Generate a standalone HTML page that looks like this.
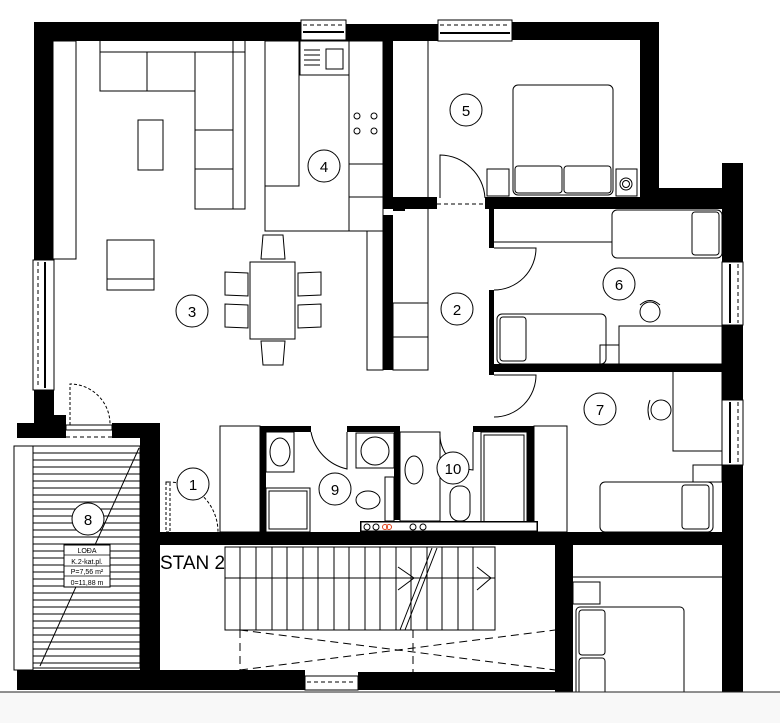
<!DOCTYPE html>
<html><head><meta charset="utf-8"><style>
html,body{margin:0;padding:0;background:#fff;}
svg{display:block;font-family:"Liberation Sans",sans-serif;}
</style></head><body>
<svg width="780" height="723" viewBox="0 0 780 723" xmlns="http://www.w3.org/2000/svg">
<rect x="0" y="0" width="780" height="723" fill="#fff"/>

<!-- ===== WALLS ===== -->
<g fill="#000">
<rect x="34" y="22" width="267" height="19"/>
<rect x="346" y="24" width="92" height="17"/>
<rect x="512" y="22" width="147" height="18"/>
<rect x="34" y="22" width="19" height="238"/>
<rect x="34" y="390" width="20" height="35"/>
<rect x="54" y="415" width="12" height="10"/>
<rect x="640" y="22" width="19" height="170"/>
<rect x="640" y="188" width="102" height="12"/>
<rect x="722" y="163" width="21" height="99"/>
<rect x="722" y="325" width="21" height="75"/>
<rect x="722" y="465" width="21" height="227"/>
<rect x="383" y="40" width="10" height="158"/>
<rect x="383" y="215" width="10" height="155"/>
<rect x="393" y="197" width="12" height="14"/>
<rect x="383" y="197" width="54" height="12"/>
<rect x="485" y="197" width="240" height="12"/>
<rect x="489" y="209" width="5" height="39"/>
<rect x="489" y="290" width="5" height="85"/>
<rect x="489" y="364" width="233" height="8"/>
<rect x="260" y="426" width="51" height="6"/>
<rect x="347" y="426" width="53" height="6"/>
<rect x="260" y="426" width="6" height="106"/>
<rect x="394" y="426" width="6" height="94"/>
<rect x="473" y="426" width="60" height="6"/>
<rect x="527" y="426" width="7" height="106"/>
<rect x="160" y="532" width="583" height="13"/>
<rect x="360" y="521" width="178" height="11"/>
<rect x="17" y="423" width="49" height="15"/>
<rect x="112" y="423" width="48" height="15"/>
<rect x="140" y="423" width="20" height="267"/>
<rect x="17" y="670" width="288" height="20"/>
<rect x="358" y="672" width="215" height="18"/>
<rect x="555" y="545" width="18" height="147"/>
</g>
<g fill="#fff" stroke="#000" stroke-width="1">
<rect x="301" y="20" width="45" height="20"/>
<rect x="438" y="20" width="74" height="21"/>
<rect x="33" y="260" width="21" height="130"/>
<rect x="722" y="262" width="21" height="63"/>
<rect x="722" y="400" width="21" height="65"/>
<rect x="305" y="676" width="53" height="14"/>
<rect x="14" y="446" width="19" height="224"/>
</g>
<g stroke="#000" stroke-width="1" stroke-dasharray="4,3" fill="none">
<line x1="303" y1="25" x2="344" y2="25"/>
<line x1="440" y1="25" x2="510" y2="25"/>
<line x1="38" y1="262" x2="38" y2="388"/>
<line x1="738" y1="264" x2="738" y2="323"/>
<line x1="738" y1="402" x2="738" y2="463"/>
<line x1="307" y1="682" x2="356" y2="682"/>
</g>
<g stroke="#000" stroke-width="2">
<line x1="303" y1="32" x2="344" y2="32"/>
<line x1="440" y1="33" x2="510" y2="33"/>
<line x1="45" y1="262" x2="45" y2="388"/>
<line x1="730" y1="264" x2="730" y2="323"/>
<line x1="730" y1="402" x2="730" y2="463"/>
</g>

<!-- ===== LOGGIA 8 ===== -->
<g stroke="#000" stroke-width="1" fill="none">
<rect x="33" y="446" width="107" height="222"/>
<path d="M33 453H140M33 460H140M33 467H140M33 474H140M33 481H140M33 488H140M33 495H140M33 502H140M33 509H140M33 516H140M33 523H140M33 530H140M33 537H140M33 544H140M33 551H140M33 558H140M33 565H140M33 572H140M33 579H140M33 586H140M33 593H140M33 600H140M33 607H140M33 614H140M33 621H140M33 628H140M33 635H140M33 642H140M33 649H140M33 656H140M33 663H140"/>
<line x1="40" y1="666" x2="139" y2="448"/>
</g>
<rect x="64" y="545" width="46" height="42" fill="#fff" stroke="#000"/>
<g stroke="#000" stroke-width="0.8"><line x1="64" y1="555" x2="110" y2="555"/><line x1="64" y1="566" x2="110" y2="566"/><line x1="64" y1="576" x2="110" y2="576"/></g>
<g font-size="7" text-anchor="middle" fill="#000">
<text x="87" y="553">LOĐA</text><text x="87" y="564">K.2-kat.pl.</text><text x="87" y="574">P=7,56 m²</text><text x="87" y="585">0=11,88 m</text>
</g>
<rect x="66" y="425" width="46" height="5" fill="#fff" stroke="#000"/>
<path d="M70 425V384A40 40 0 0 1 110 424" fill="none" stroke="#000" stroke-dasharray="3,2"/>
<line x1="66" y1="437" x2="112" y2="437" stroke="#000" stroke-dasharray="4,3"/>

<!-- ===== LIVING 3 ===== -->
<g stroke="#000" stroke-width="1" fill="none">
<rect x="53" y="41" width="23" height="218"/>
<path d="M100 41V91H195V209H245V41"/>
<line x1="100" y1="52" x2="245" y2="52"/>
<line x1="147" y1="52" x2="147" y2="91"/>
<line x1="195" y1="52" x2="195" y2="91"/>
<line x1="195" y1="130" x2="233" y2="130"/>
<line x1="195" y1="169" x2="233" y2="169"/>
<line x1="233" y1="41" x2="233" y2="209"/>
<rect x="138" y="120" width="25" height="50"/>
<rect x="107" y="240" width="47" height="50"/>
<line x1="107" y1="279" x2="154" y2="279"/>
<rect x="250" y="262" width="45" height="77"/>
<path d="M261 259L263 235H283L285 259Z"/>
<path d="M261 341L263 365H283L285 341Z"/>
<path d="M248 273L225 272V295L248 296Z"/>
<path d="M248 305L225 304V327L248 328Z"/>
<path d="M298 273L321 272V295L298 296Z"/>
<path d="M298 305L321 304V327L298 328Z"/>
<rect x="265" y="41" width="34" height="145"/>
<path d="M265 186V231H349"/>
<rect x="300" y="41" width="49" height="34"/>
<path d="M304 50H320M304 55H320M304 60H320M304 65H320"/>
<rect x="326" y="49" width="17" height="20"/>
<rect x="349" y="41" width="34" height="190"/>
<line x1="349" y1="164" x2="383" y2="164"/>
<line x1="349" y1="197" x2="383" y2="197"/>
<circle cx="357" cy="116" r="3"/><circle cx="374" cy="116" r="3"/>
<circle cx="357" cy="131" r="3"/><circle cx="374" cy="131" r="3"/>
<rect x="367" y="231" width="16" height="139"/>
<rect x="393" y="303" width="35" height="67"/>
<line x1="393" y1="337" x2="428" y2="337"/>
<line x1="428" y1="41" x2="428" y2="370"/>
</g>

<!-- ===== ROOM 5 ===== -->
<g stroke="#000" stroke-width="1" fill="none">
<rect x="513" y="85" width="100" height="110" rx="5"/>
<rect x="515" y="166" width="47" height="27" rx="3"/>
<rect x="564" y="166" width="47" height="27" rx="3"/>
<rect x="487" y="169" width="22" height="27"/>
<rect x="616" y="169" width="21" height="27"/>
<circle cx="626" cy="184" r="6"/><circle cx="626" cy="184" r="3.5"/>
<path d="M440 198V155A46 46 0 0 1 485 198"/>
</g>
<line x1="437" y1="204" x2="485" y2="204" stroke="#000" stroke-dasharray="4,3"/>

<!-- ===== ROOM 6 / 7 ===== -->
<g stroke="#000" stroke-width="1" fill="none">
<line x1="494" y1="242" x2="612" y2="242"/>
<rect x="612" y="210" width="110" height="48" rx="5"/>
<rect x="692" y="212" width="27" height="43" rx="3"/>
<path d="M494 248H536A42 42 0 0 1 494 290"/>
<rect x="497" y="314" width="109" height="50" rx="5"/>
<rect x="500" y="317" width="26" height="44" rx="3"/>
<rect x="600" y="345" width="19" height="19"/>
<rect x="619" y="326" width="103" height="38"/>
<circle cx="650" cy="312" r="10"/>
<path d="M640 305Q650 296 660 305"/>
<path d="M494 375H536A42 42 0 0 1 494 417"/>
<rect x="673" y="370" width="49" height="81"/>
<circle cx="661" cy="410" r="10"/>
<path d="M650 400Q646 410 650 420"/>
<rect x="693" y="465" width="29" height="17"/>
<rect x="600" y="482" width="113" height="50" rx="5"/>
<rect x="682" y="485" width="27" height="44" rx="3"/>
<rect x="534" y="426" width="33" height="106"/>
</g>

<!-- ===== BATHROOMS ===== -->
<g stroke="#000" stroke-width="1" fill="none">
<rect x="266" y="432" width="28" height="40"/>
<ellipse cx="280" cy="452" rx="10" ry="14"/>
<rect x="266" y="488" width="44" height="44"/>
<rect x="269" y="491" width="38" height="38"/>
<path d="M311 432A47 47 0 0 0 347 469V432"/>
<rect x="356" y="433" width="38" height="35"/>
<circle cx="375" cy="451" r="14"/>
<rect x="385" y="477" width="9" height="44"/>
<ellipse cx="368" cy="500" rx="12" ry="9"/>
<rect x="400" y="432" width="40" height="89"/>
<ellipse cx="414" cy="470" rx="9" ry="14"/>
<path d="M440 432A36 36 0 0 0 473 470V432"/>
<rect x="450" y="486" width="20" height="35" rx="9"/>
<rect x="481" y="432" width="46" height="99"/>
<rect x="484" y="435" width="40" height="93"/>
</g>
<rect x="361" y="522" width="176" height="9" fill="#fff" stroke="#000"/>
<g fill="none" stroke="#000" stroke-width="1"><circle cx="367" cy="527" r="3"/><circle cx="376" cy="527" r="3"/><circle cx="413" cy="527" r="3"/><circle cx="423" cy="527" r="3"/></g>
<g fill="none" stroke="#e0401a" stroke-width="1"><circle cx="385" cy="527" r="2.5"/><circle cx="389" cy="527" r="2.5"/></g>

<!-- ===== ENTRANCE / STAIRS ===== -->
<g stroke="#000" stroke-width="1" fill="none">
<rect x="220" y="426" width="40" height="106"/>
<rect x="166" y="482" width="4" height="50" stroke-dasharray="3,2"/>
<path d="M168 482A50 50 0 0 1 218 532" stroke-dasharray="3,2"/>
<line x1="160" y1="540" x2="220" y2="540" stroke-dasharray="4,3"/>
<rect x="225" y="547" width="270" height="83"/>
<path d="M240 547V630M256 547V630M272 547V630M287 547V630M303 547V630M318 547V630M334 547V630M349 547V630M365 547V630M380 547V630M396 547V630M411 547V630M427 547V630M442 547V630M458 547V630M473 547V630"/>
<line x1="225" y1="578" x2="495" y2="578"/>
<path d="M398 567L414 578L398 590M477 567L491 578L477 590"/>
<path d="M400 630L432 548M405 630L437 548"/>
<line x1="240" y1="630" x2="240" y2="672" stroke-dasharray="8,5"/>
<line x1="413" y1="630" x2="413" y2="672" stroke-dasharray="8,5"/>
<path d="M240 630L555 670M240 670L555 630" stroke-dasharray="8,5"/>
<line x1="573" y1="577" x2="722" y2="577"/>
<rect x="573" y="582" width="27" height="22"/>
<rect x="576" y="607" width="108" height="90" rx="4"/>
<rect x="579" y="610" width="26" height="45" rx="3"/>
<rect x="579" y="658" width="26" height="40" rx="3"/>
</g>
<text x="160" y="569" font-size="19" fill="#000">STAN 2</text>

<!-- bottom band (covers overflow) -->
<rect x="0" y="692" width="780" height="31" fill="#f8f8f8"/>
<line x1="0" y1="692" x2="780" y2="692" stroke="#222" stroke-width="1"/>

<!-- ===== LABELS ===== -->
<g fill="#fff" stroke="#000" stroke-width="1">
<circle cx="193" cy="484" r="16"/><circle cx="457" cy="309" r="16"/>
<circle cx="192" cy="311" r="16"/><circle cx="324" cy="166" r="16"/>
<circle cx="466" cy="110" r="16"/><circle cx="619" cy="284" r="16"/>
<circle cx="600" cy="409" r="16"/><circle cx="88" cy="519" r="16"/>
<circle cx="335" cy="489" r="16"/><circle cx="453" cy="468" r="16"/>
</g>
<g font-size="15" text-anchor="middle" fill="#000">
<text x="193" y="490">1</text><text x="457" y="315">2</text><text x="192" y="317">3</text>
<text x="324" y="172">4</text><text x="466" y="116">5</text><text x="619" y="290">6</text>
<text x="600" y="415">7</text><text x="88" y="525">8</text><text x="335" y="495">9</text>
<text x="453" y="474">10</text>
</g>
</svg>
</body></html>
